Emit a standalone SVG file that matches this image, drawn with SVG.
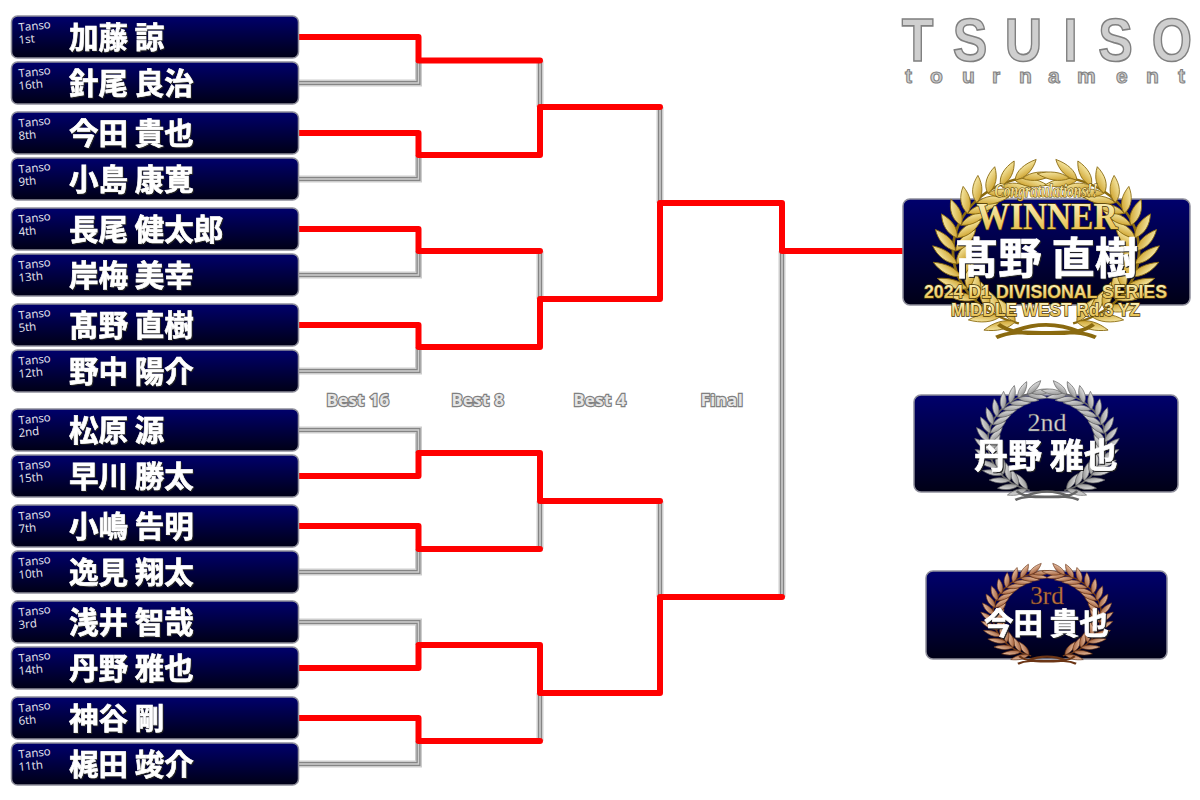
<svg xmlns="http://www.w3.org/2000/svg" width="1200" height="800" viewBox="0 0 1200 800">
<style>
.panel{fill:url(#pg);stroke:#8f8f9c;stroke-width:1.5}
.name{font-family:"Noto Sans CJK JP","Noto Sans CJK SC",sans-serif;font-weight:700;fill:#fff;stroke:#fff;stroke-width:.7;filter:drop-shadow(1px 1px 0 #222)}
.s{font-size:29.5px}
.tag{font-family:"Open Sans","Liberation Sans",sans-serif;font-size:11.5px;fill:#e8e8f0}
.red{fill:none;stroke:#f00;stroke-width:6;stroke-linejoin:round;stroke-linecap:round}
.g0{fill:none;stroke:#cdcdcd;stroke-width:7}
.g1{fill:none;stroke:#858585;stroke-width:4}
.g2{fill:none;stroke:#d0d0d0;stroke-width:1.5}
.rnd{font-family:"Open Sans","Liberation Sans",sans-serif;font-size:16.5px;font-weight:700;letter-spacing:.5px;text-anchor:middle;fill:#e6e6e6;stroke:#808080;stroke-width:2.4;paint-order:stroke}
.logo{font-family:"Liberation Sans",sans-serif;font-weight:700;fill:#cfcfcf;stroke:#808080;stroke-width:1.6}
.gt{font-weight:700;fill:url(#gt);stroke:#4a3806;stroke-width:1.5;paint-order:stroke;text-anchor:middle}
</style>
<defs>
<linearGradient id="pg" x1="0" y1="0" x2="0" y2="1"><stop offset="0" stop-color="#00006c"/><stop offset="1" stop-color="#000016"/></linearGradient>
<linearGradient id="gt" x1="0" y1="0" x2="0" y2="1"><stop offset="0" stop-color="#fffcd4"/><stop offset="1" stop-color="#e2b436"/></linearGradient>
<linearGradient id="lg" x1="0" y1="0" x2="1" y2="1"><stop offset="0" stop-color="#fff8c0"/><stop offset="1" stop-color="#c8981c"/></linearGradient>
<linearGradient id="ls" x1="0" y1="0" x2="1" y2="1"><stop offset="0" stop-color="#f2f2f2"/><stop offset="1" stop-color="#858585"/></linearGradient>
<linearGradient id="lb" x1="0" y1="0" x2="1" y2="1"><stop offset="0" stop-color="#f6d4ba"/><stop offset="1" stop-color="#97502a"/></linearGradient>
<path id="leaf" d="M0,0C-6,-8 -5,-19 0,-29C5,-19 6,-8 0,0Z"/>
<g id="branch">
<path d="M-24,77A80,80 0 0 1 -24,-77" fill="none" stroke-width="2.5"/>
<use href="#leaf" transform="rotate(-70) translate(-80,0) rotate(-38)"/><use href="#leaf" transform="rotate(-70) translate(-80,0) rotate(38)"/>
<use href="#leaf" transform="rotate(-60) translate(-80,0) rotate(-38)"/><use href="#leaf" transform="rotate(-60) translate(-80,0) rotate(38)"/>
<use href="#leaf" transform="rotate(-50) translate(-80,0) rotate(-38)"/><use href="#leaf" transform="rotate(-50) translate(-80,0) rotate(38)"/>
<use href="#leaf" transform="rotate(-40) translate(-80,0) rotate(-38)"/><use href="#leaf" transform="rotate(-40) translate(-80,0) rotate(38)"/>
<use href="#leaf" transform="rotate(-30) translate(-80,0) rotate(-38)"/><use href="#leaf" transform="rotate(-30) translate(-80,0) rotate(38)"/>
<use href="#leaf" transform="rotate(-20) translate(-80,0) rotate(-38)"/><use href="#leaf" transform="rotate(-20) translate(-80,0) rotate(38)"/>
<use href="#leaf" transform="rotate(-10) translate(-80,0) rotate(-38)"/><use href="#leaf" transform="rotate(-10) translate(-80,0) rotate(38)"/>
<use href="#leaf" transform="translate(-80,0) rotate(-38)"/><use href="#leaf" transform="translate(-80,0) rotate(38)"/>
<use href="#leaf" transform="rotate(10) translate(-80,0) rotate(-38)"/><use href="#leaf" transform="rotate(10) translate(-80,0) rotate(38)"/>
<use href="#leaf" transform="rotate(20) translate(-80,0) rotate(-38)"/><use href="#leaf" transform="rotate(20) translate(-80,0) rotate(38)"/>
<use href="#leaf" transform="rotate(30) translate(-80,0) rotate(-38)"/><use href="#leaf" transform="rotate(30) translate(-80,0) rotate(38)"/>
<use href="#leaf" transform="rotate(40) translate(-80,0) rotate(-38)"/><use href="#leaf" transform="rotate(40) translate(-80,0) rotate(38)"/>
<use href="#leaf" transform="rotate(50) translate(-80,0) rotate(-38)"/><use href="#leaf" transform="rotate(50) translate(-80,0) rotate(38)"/>
<use href="#leaf" transform="rotate(60) translate(-80,0) rotate(-36)"/><use href="#leaf" transform="rotate(60) translate(-80,0) rotate(36)"/>
<use href="#leaf" transform="rotate(70) translate(-80,0) rotate(-30)"/><use href="#leaf" transform="rotate(70) translate(-80,0) rotate(30)"/>
<use href="#leaf" transform="rotate(75) translate(-80,0) rotate(5)"/>
</g>
<g id="wreath">
<use href="#branch"/><use href="#branch" transform="scale(-1,1)"/>
<path d="M-42,78C-20,98 20,78 44,92M42,78C20,98 -20,78 -44,92M-30,86C-10,76 10,76 30,86" fill="none" stroke-width="4"/>
</g>
</defs>

<g id="logo">
<text class="logo" font-size="61" transform="scale(.85,1)" x="1061 1121 1182 1251 1292 1355" y="61">TSUISO</text>
<text class="logo" font-size="21" style="stroke-width:1" x="905 930 962 992 1019 1048 1077 1116 1146 1178" y="83">tournament</text>
</g>

<g id="connectors">
<path class="g0" d="M298,83H418.500V60.500M298,179H418.500V155M298,275H418.500V251M298,371H418.500V347M298,430H418.500V453M298,572H418.500V549M298,622H418.500V645M298,764H418.500V741M540,60.500V107M540,251V299M540,549V501M540,741V693M660,107V203M660,501V597M782,251V597"/>
<path class="g1" d="M298,83H418.500V60.500M298,179H418.500V155M298,275H418.500V251M298,371H418.500V347M298,430H418.500V453M298,572H418.500V549M298,622H418.500V645M298,764H418.500V741M540,60.500V107M540,251V299M540,549V501M540,741V693M660,107V203M660,501V597M782,251V597"/>
<path class="g2" d="M298,83H418.500V60.500M298,179H418.500V155M298,275H418.500V251M298,371H418.500V347M298,430H418.500V453M298,572H418.500V549M298,622H418.500V645M298,764H418.500V741M540,60.500V107M540,251V299M540,549V501M540,741V693M660,107V203M660,501V597M782,251V597"/>
<g class="red">
<path d="M298,37H418.500V60.500H540"/>
<path d="M298,133H418.500V155H540V107H660"/>
<path d="M298,229H418.500V251H540"/>
<path d="M298,325H418.500V347H540V299H660V203H782V251H903"/>
<path d="M298,476H418.500V453H540V501H660"/>
<path d="M298,526H418.500V549H540"/>
<path d="M298,668H418.500V645H540V693H660V597H782"/>
<path d="M298,718H418.500V741H540"/>
</g>
</g>

<g id="rounds">
<text class="rnd" x="358" y="406">Best 16</text>
<text class="rnd" x="478" y="406">Best 8</text>
<text class="rnd" x="600" y="406">Best 4</text>
<text class="rnd" x="722" y="406">Final</text>
</g>

<g id="n1"><rect class="panel" x="11.500" y="16" width="287" height="42" rx="6"/><text class="tag" transform="translate(19,31.500) rotate(-6)">Tanso</text><text class="tag" transform="translate(19,44) rotate(-6)">1st</text><text class="name s" x="69" y="48">加藤 諒</text></g>
<g id="n2"><rect class="panel" x="11.500" y="62" width="287" height="42" rx="6"/><text class="tag" transform="translate(19,77.500) rotate(-6)">Tanso</text><text class="tag" transform="translate(19,90) rotate(-6)">16th</text><text class="name s" x="69" y="94">針尾 良治</text></g>
<g id="n3"><rect class="panel" x="11.500" y="112" width="287" height="42" rx="6"/><text class="tag" transform="translate(19,127.500) rotate(-6)">Tanso</text><text class="tag" transform="translate(19,140) rotate(-6)">8th</text><text class="name s" x="69" y="144">今田 貴也</text></g>
<g id="n4"><rect class="panel" x="11.500" y="158" width="287" height="42" rx="6"/><text class="tag" transform="translate(19,173.500) rotate(-6)">Tanso</text><text class="tag" transform="translate(19,186) rotate(-6)">9th</text><text class="name s" x="69" y="190">小島 康寛</text></g>
<g id="n5"><rect class="panel" x="11.500" y="208" width="287" height="42" rx="6"/><text class="tag" transform="translate(19,223.500) rotate(-6)">Tanso</text><text class="tag" transform="translate(19,236) rotate(-6)">4th</text><text class="name s" x="69" y="240">長尾 健太郎</text></g>
<g id="n6"><rect class="panel" x="11.500" y="254" width="287" height="42" rx="6"/><text class="tag" transform="translate(19,269.500) rotate(-6)">Tanso</text><text class="tag" transform="translate(19,282) rotate(-6)">13th</text><text class="name s" x="69" y="286">岸梅 美幸</text></g>
<g id="n7"><rect class="panel" x="11.500" y="304" width="287" height="42" rx="6"/><text class="tag" transform="translate(19,319.500) rotate(-6)">Tanso</text><text class="tag" transform="translate(19,332) rotate(-6)">5th</text><text class="name s" x="69" y="336">髙野 直樹</text></g>
<g id="n8"><rect class="panel" x="11.500" y="350" width="287" height="42" rx="6"/><text class="tag" transform="translate(19,365.500) rotate(-6)">Tanso</text><text class="tag" transform="translate(19,378) rotate(-6)">12th</text><text class="name s" x="69" y="382">野中 陽介</text></g>
<g id="n9"><rect class="panel" x="11.500" y="409" width="287" height="42" rx="6"/><text class="tag" transform="translate(19,424.500) rotate(-6)">Tanso</text><text class="tag" transform="translate(19,437) rotate(-6)">2nd</text><text class="name s" x="69" y="441">松原 源</text></g>
<g id="n10"><rect class="panel" x="11.500" y="455" width="287" height="42" rx="6"/><text class="tag" transform="translate(19,470.500) rotate(-6)">Tanso</text><text class="tag" transform="translate(19,483) rotate(-6)">15th</text><text class="name s" x="69" y="487">早川 勝太</text></g>
<g id="n11"><rect class="panel" x="11.500" y="505" width="287" height="42" rx="6"/><text class="tag" transform="translate(19,520.500) rotate(-6)">Tanso</text><text class="tag" transform="translate(19,533) rotate(-6)">7th</text><text class="name s" x="69" y="537">小嶋 告明</text></g>
<g id="n12"><rect class="panel" x="11.500" y="551" width="287" height="42" rx="6"/><text class="tag" transform="translate(19,566.500) rotate(-6)">Tanso</text><text class="tag" transform="translate(19,579) rotate(-6)">10th</text><text class="name s" x="69" y="583">逸見 翔太</text></g>
<g id="n13"><rect class="panel" x="11.500" y="601" width="287" height="42" rx="6"/><text class="tag" transform="translate(19,616.500) rotate(-6)">Tanso</text><text class="tag" transform="translate(19,629) rotate(-6)">3rd</text><text class="name s" x="69" y="633">浅井 智哉</text></g>
<g id="n14"><rect class="panel" x="11.500" y="647" width="287" height="42" rx="6"/><text class="tag" transform="translate(19,662.500) rotate(-6)">Tanso</text><text class="tag" transform="translate(19,675) rotate(-6)">14th</text><text class="name s" x="69" y="679">丹野 雅也</text></g>
<g id="n15"><rect class="panel" x="11.500" y="697" width="287" height="42" rx="6"/><text class="tag" transform="translate(19,712.500) rotate(-6)">Tanso</text><text class="tag" transform="translate(19,725) rotate(-6)">6th</text><text class="name s" x="69" y="729">神谷 剛</text></g>
<g id="n16"><rect class="panel" x="11.500" y="743" width="287" height="42" rx="6"/><text class="tag" transform="translate(19,758.500) rotate(-6)">Tanso</text><text class="tag" transform="translate(19,771) rotate(-6)">11th</text><text class="name s" x="69" y="775">梶田 竣介</text></g>

<g id="winner">
<rect class="panel" x="903" y="199" width="287" height="106" rx="7"/>
<use href="#wreath" transform="translate(1046,251) scale(1.13,0.94)" fill="url(#lg)" stroke="#8a6a10" stroke-width="0.8"/>
<text class="gt" x="1046" y="197" font-family="Liberation Serif,serif" font-style="italic" font-size="18" textLength="103" lengthAdjust="spacingAndGlyphs" style="stroke-width:1">Congratulations!!</text>
<text class="gt" x="1047" y="229" font-family="Liberation Serif,serif" font-size="38" textLength="141" lengthAdjust="spacingAndGlyphs">WINNER</text>
<text class="name" x="955" y="274" font-size="43.300">髙野 直樹</text>
<text class="gt" x="1045.500" y="298" font-family="Liberation Sans,sans-serif" font-size="19" textLength="243" lengthAdjust="spacingAndGlyphs">2024 D1 DIVISIONAL SERIES</text>
<text class="gt" x="1045.500" y="316" font-family="Liberation Sans,sans-serif" font-size="19" textLength="189" lengthAdjust="spacingAndGlyphs">MIDDLE WEST Rd.3 YZ</text>
</g>
<g id="second">
<rect class="panel" x="914" y="395" width="264" height="97" rx="7"/>
<use href="#wreath" transform="translate(1047,442) scale(0.72,0.63)" fill="url(#ls)" stroke="#666" stroke-width="1"/>
<text x="1047" y="431" font-family="Liberation Serif,serif" font-size="26" text-anchor="middle" fill="#d8d8d8" stroke="#555" stroke-width="0.4">2nd</text>
<text class="name" x="974" y="468" font-size="34">丹野 雅也</text>
</g>
<g id="third">
<rect class="panel" x="926" y="571" width="241" height="88" rx="7"/>
<use href="#wreath" transform="translate(1047,615) scale(0.66,0.53)" fill="url(#lb)" stroke="#6b3515" stroke-width="1"/>
<text x="1047" y="604" font-family="Liberation Serif,serif" font-size="25" text-anchor="middle" fill="#c47a4a" stroke="#5b2d12" stroke-width="0.4">3rd</text>
<text class="name" x="984" y="634" font-size="29.500">今田 貴也</text>
</g>
</svg>
